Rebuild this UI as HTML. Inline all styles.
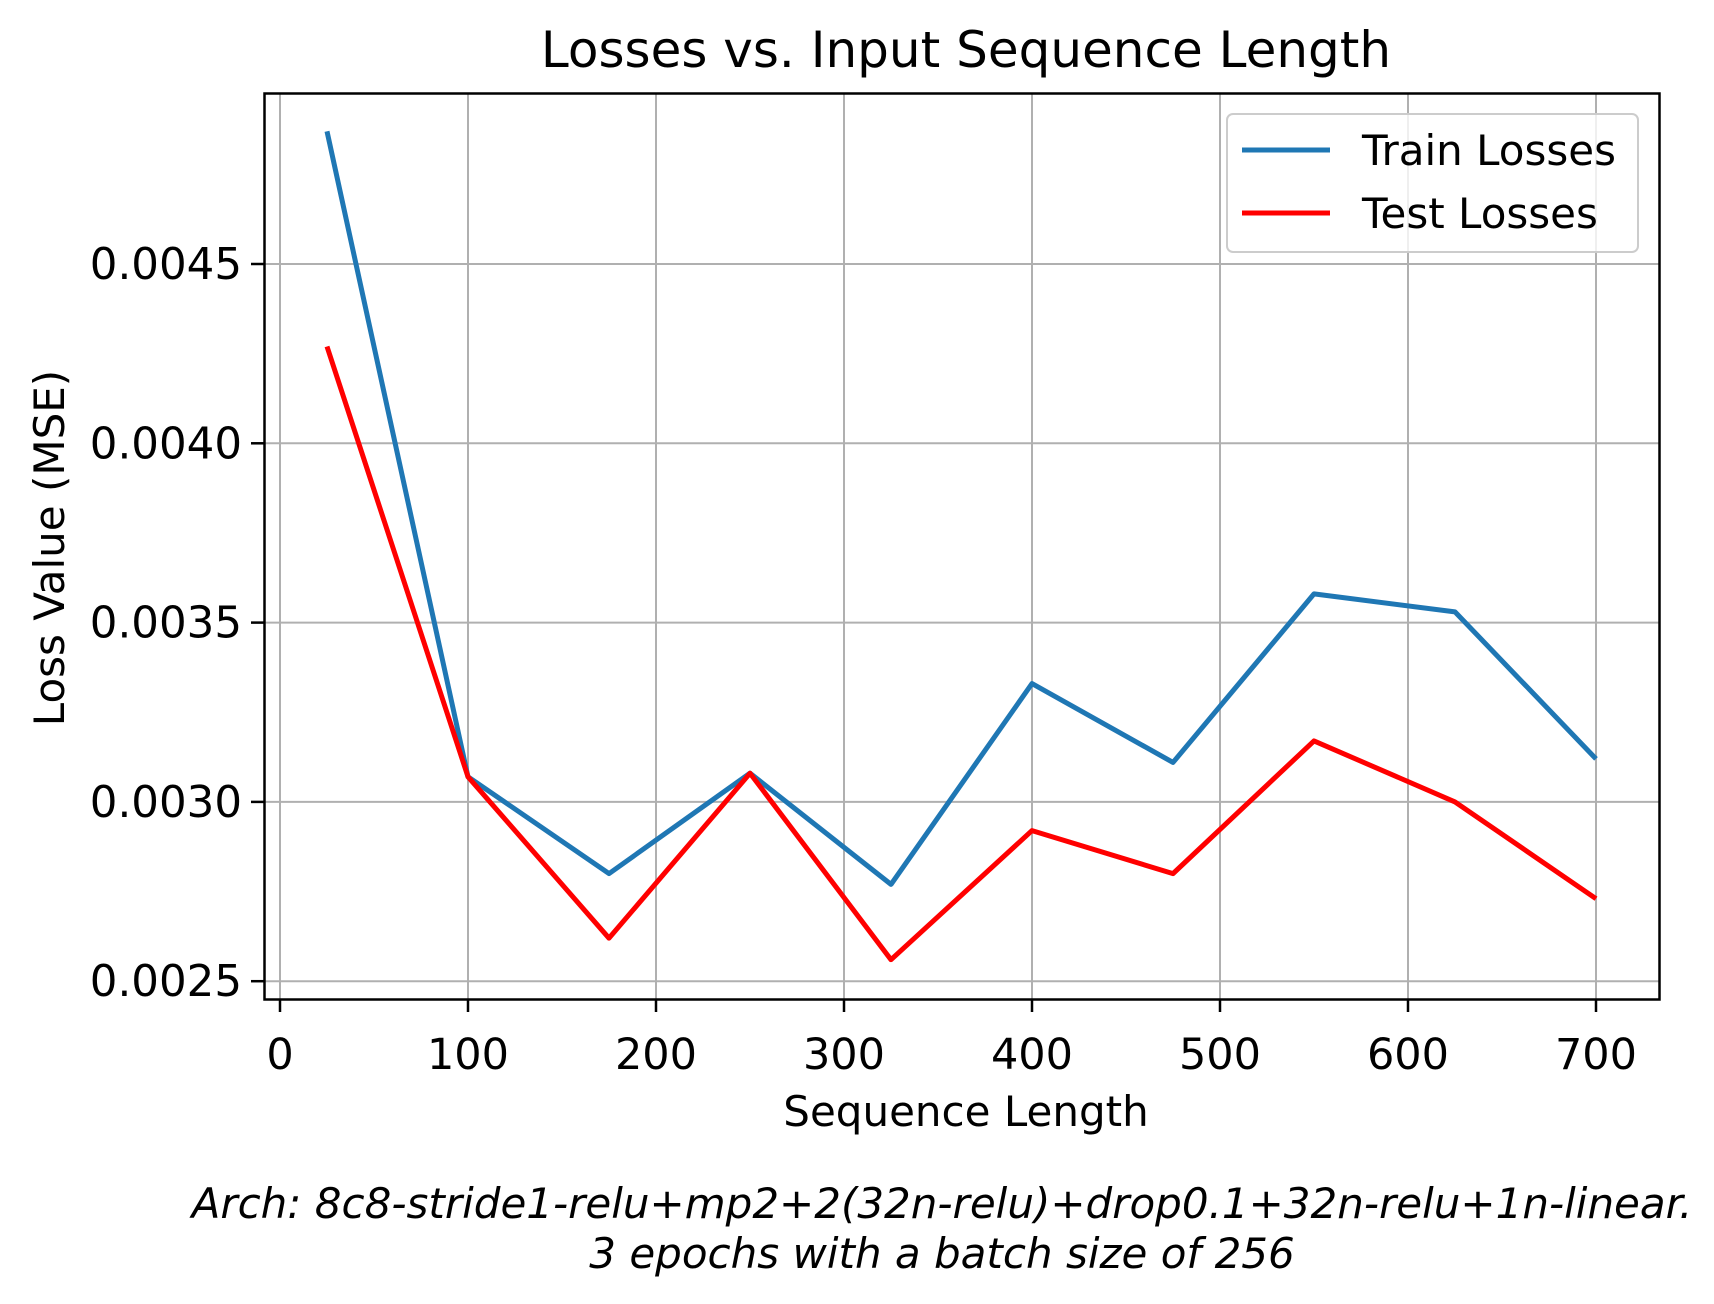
<!DOCTYPE html>
<html><head><meta charset="utf-8"><style>
body{margin:0;background:#fff}
svg text{font-family:"DejaVu Sans","Liberation Sans",sans-serif;fill:#000}
</style></head><body>
<svg id="chart" width="1714" height="1299">
<text x="966" y="67" font-size="50" text-anchor="middle">Losses vs. Input Sequence Length</text>
<g id="grid"></g>
<g id="series"></g>
<rect x="264.5" y="93.5" width="1395" height="906" fill="none" stroke="#000" stroke-width="2.5"/>
<g id="ticks"></g>
<text x="966" y="1126" font-size="42" text-anchor="middle">Sequence Length</text>
<text transform="translate(64,548) rotate(-90)" font-size="42" text-anchor="middle">Loss Value (MSE)</text>
<text x="942" y="1218" font-size="42" font-style="italic" text-anchor="middle">Arch: 8c8-stride1-relu+mp2+2(32n-relu)+drop0.1+32n-relu+1n-linear.</text>
<text x="942" y="1268" font-size="42" font-style="italic" text-anchor="middle">3 epochs with a batch size of 256</text>
<g>
<rect x="1227" y="114" width="411" height="138" rx="6" fill="#fff" fill-opacity="0.8" stroke="#ccc" stroke-width="2"/>
<line x1="1242" y1="150" x2="1330" y2="150" stroke="#1f77b4" stroke-width="5"/>
<text x="1362" y="165" font-size="42">Train Losses</text>
<line x1="1242" y1="213" x2="1330" y2="213" stroke="#ff0000" stroke-width="5"/>
<text x="1362" y="228" font-size="42">Test Losses</text>
</g>
</svg>
<script>
const seqLengths=[25,100,175,250,325,400,475,550,625,700];
const trainLosses=[0.00487,0.00307,0.00280,0.00308,0.00277,0.00333,0.00311,0.00358,0.00353,0.00312];
const testLosses=[0.00427,0.00307,0.00262,0.00308,0.00256,0.00292,0.00280,0.00317,0.00300,0.00273];
const xTicks=[0,100,200,300,400,500,600,700];
const yTicks=[0.0025,0.0030,0.0035,0.0040,0.0045];
const yTickLabels=["0.0025","0.0030","0.0035","0.0040","0.0045"];
const NS="http://www.w3.org/2000/svg";
function X(v){return 280+v*1.88;}
function Y(v){return 264+(0.0045-v)/0.0005*179.3;}
function mk(tag,attrs,parent){const e=document.createElementNS(NS,tag);for(const k in attrs)e.setAttribute(k,attrs[k]);parent.appendChild(e);return e;}
const grid=document.getElementById('grid'),ticks=document.getElementById('ticks'),series=document.getElementById('series');
xTicks.forEach(t=>{
 const g=mk('line',{x1:X(t),x2:X(t),y1:93,y2:999,stroke:'#b0b0b0','stroke-width':2},grid);
 
 
 const tk=mk('line',{x1:X(t),x2:X(t),y1:999,y2:1012,stroke:'#000','stroke-width':2.5},ticks);
 
 
 const tx=mk('text',{x:X(t),y:1069,'font-size':43,'text-anchor':'middle'},ticks);
 tx.textContent=t;
 
 
});
yTicks.forEach((t,i)=>{
 const g=mk('line',{x1:264,x2:1659,y1:Y(t),y2:Y(t),stroke:'#b0b0b0','stroke-width':2},grid);
 
 
 const tk=mk('line',{x1:251,x2:264,y1:Y(t),y2:Y(t),stroke:'#000','stroke-width':2.5},ticks);
 
 
 const tx=mk('text',{x:242,y:Y(t)+15,'font-size':43.5,'text-anchor':'end'},ticks);
 tx.textContent=yTickLabels[i];
 
 
});
function line(vals,color,name){
 const p=mk('polyline',{points:seqLengths.map((s,i)=>X(s)+','+Y(vals[i])).join(' '),fill:'none',stroke:color,'stroke-width':5,'stroke-linejoin':'round'},series);
 
 
}
line(trainLosses,'#1f77b4','train-losses-line');
line(testLosses,'#ff0000','test-losses-line');
</script>
</body></html>
